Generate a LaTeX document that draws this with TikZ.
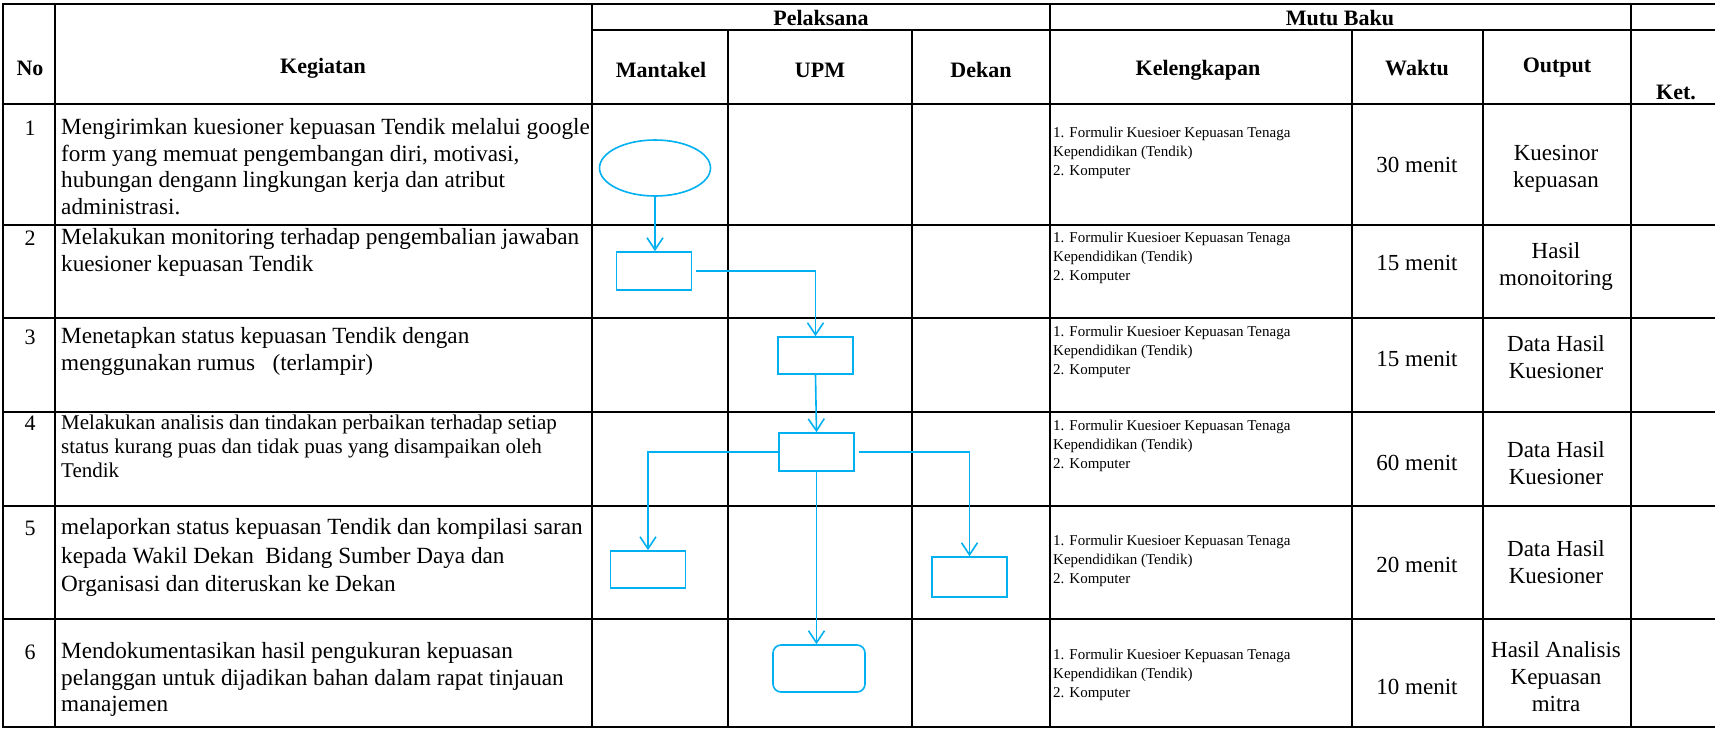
\documentclass[tikz,border=0pt]{standalone}
\usepackage{fontspec}
\setmainfont{Liberation Serif}
\usetikzlibrary{arrows.meta,shapes.geometric}
\definecolor{flow}{RGB}{0,176,240}
\begin{document}
\begin{tikzpicture}[x=1pt,y=-1pt,
 grid/.style={line width=1.6pt, black, line cap=rect},
 hd/.style={font=\fontsize{22}{26}\selectfont\bfseries, inner sep=0pt},
 kg/.style={font=\fontsize{23.2}{26.5}\selectfont, align=left, anchor=north west, inner sep=0pt},
 kgs/.style={font=\fontsize{21}{24}\selectfont, align=left, anchor=north west, inner sep=0pt},
 num/.style={font=\fontsize{22}{26}\selectfont, inner sep=0pt},
 kl/.style={font=\fontsize{15}{19}\selectfont, align=left, anchor=north west, inner sep=0pt},
 wk/.style={font=\fontsize{23}{27}\selectfont, inner sep=0pt},
 op/.style={font=\fontsize{23}{27}\selectfont, align=center, inner sep=0pt},
 proc/.style={draw=flow, line width=1.6pt, minimum width=75pt, minimum height=38pt, inner sep=0pt},
 arr/.style={draw=flow, line width=1.6pt, -{Straight Barb[length=12pt,width=16pt]}},
]
\useasboundingbox (0,0) rectangle (1715,729);
% table grid
\draw[grid] (3,4) -- (1715,4);
\draw[grid] (592,30) -- (1715,30);
\foreach \yy in {104,225,318,412,506,619,727} \draw[grid] (3,\yy) -- (1715,\yy);
\foreach \xx in {3,55,592,1050,1631} \draw[grid] (\xx,4) -- (\xx,727);
\foreach \xx in {728,912,1352,1483} \draw[grid] (\xx,30) -- (\xx,727);
% headers
\node[hd] (hno) at (30,68) {No};
\node[hd] (hkeg) at (323,68) {Kegiatan};
\node[hd] (hpel) at (821,18) {Pelaksana};
\node[hd] (hmut) at (1340,18) {Mutu Baku};
\node[hd] (hman) at (661,70) {Mantakel};
\node[hd] (hupm) at (820,70) {UPM};
\node[hd] (hdek) at (981,70) {Dekan};
\node[hd] (hkel) at (1198,70) {Kelengkapan};
\node[hd] (hwak) at (1417,68) {Waktu};
\node[hd] (hout) at (1557,68) {Output};
\node[hd] (hket) at (1676,92) {Ket.};
% numbers
\node[num] (n1) at (30,128) {1};
\node[num] (n2) at (30,238) {2};
\node[num] (n3) at (30,337) {3};
\node[num] (n4) at (30,423) {4};
\node[num] (n5) at (30,528) {5};
\node[num] (n6) at (30,652) {6};
% kegiatan
\node[kg] (k1) at (61,116) {\strut Mengirimkan kuesioner kepuasan Tendik melalui google\\form yang memuat pengembangan diri, motivasi,\\hubungan dengann lingkungan kerja dan atribut\\administrasi.};
\node[kg] (k2) at (61,226) {\strut Melakukan monitoring terhadap pengembalian jawaban\\kuesioner kepuasan Tendik};
\node[kg] (k3) at (61,325) {\strut Menetapkan status kepuasan Tendik dengan\\menggunakan rumus\ \ \ (terlampir)};
\node[kgs] (k4) at (61,412) {\strut Melakukan analisis dan tindakan perbaikan terhadap setiap\\status kurang puas dan tidak puas yang disampaikan oleh\\Tendik};
\node[kg, font=\fontsize{23.2}{28.2}\selectfont] (k5) at (61,515) {\strut melaporkan status kepuasan Tendik dan kompilasi saran\\kepada Wakil Dekan\ \ Bidang Sumber Daya dan\\Organisasi dan diteruskan ke Dekan};
\node[kg] (k6) at (61,640) {\strut Mendokumentasikan hasil pengukuran kepuasan\\pelanggan untuk dijadikan bahan dalam rapat tinjauan\\manajemen};
% kelengkapan
\foreach \yy/\nm in {124.4/l1,229.4/l2,323.4/l3,417.4/l4,532.4/l5,646.4/l6}
  \node[kl] (\nm) at (1053,\yy) {\strut 1. Formulir Kuesioer Kepuasan Tenaga\\Kependidikan (Tendik)\\2. Komputer};
% waktu
\node[wk] (w1) at (1417,165) {30 menit};
\node[wk] (w2) at (1417,263) {15 menit};
\node[wk] (w3) at (1417,359) {15 menit};
\node[wk] (w4) at (1417,463) {60 menit};
\node[wk] (w5) at (1417,565) {20 menit};
\node[wk] (w6) at (1417,687) {10 menit};
% output
\node[op] (o1) at (1556,169) {Kuesinor\\kepuasan};
\node[op] (o2) at (1556,266) {Hasil\\monoitoring};
\node[op] (o3) at (1556,357) {Data Hasil\\Kuesioner};
\node[op] (o4) at (1556,463) {Data Hasil\\Kuesioner};
\node[op] (o5) at (1556,562) {Data Hasil\\Kuesioner};
\node[op] (o6) at (1556,677) {Hasil Analisis\\Kepuasan\\mitra};
% flow
\node[draw=flow, line width=1.6pt, ellipse, minimum width=111pt, minimum height=56pt, inner sep=0pt] (s1) at (655,168) {};
\node[proc] (p2) at (654,271) {};
\node[proc, minimum height=37pt] (p3) at (815.5,355.5) {};
\node[proc] (p4) at (816.5,452) {};
\node[proc, minimum height=37pt] (p5a) at (648,569.5) {};
\node[proc, minimum height=40pt] (p5b) at (969.5,577) {};
\node[draw=flow, line width=1.6pt, rounded corners=8pt, minimum width=92pt, minimum height=47pt, inner sep=0pt] (p6) at (819,668.5) {};
\draw[arr] (s1.south) -- (s1.south |- p2.north);
\draw[arr] ([xshift=4pt]p2.east) -| (p3.north);
\draw[arr] (p3.south) -- (p4.north);
\draw[arr] (p4.west) -| (p5a.north);
\draw[arr] ([xshift=4pt]p4.east) -| (p5b.north);
\draw[arr] (p4.south) -- (p4.south |- p6.north);
\end{tikzpicture}
\end{document}
